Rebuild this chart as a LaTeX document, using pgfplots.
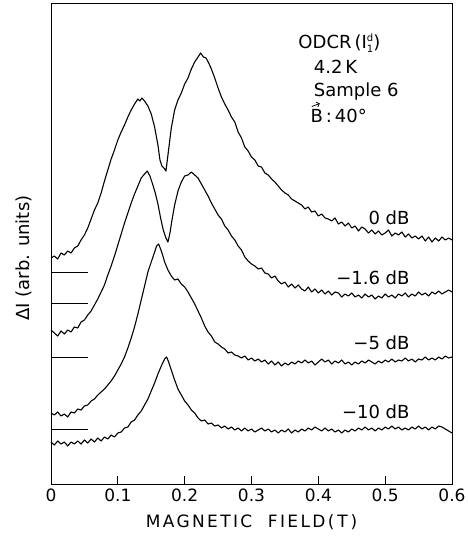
\documentclass[border=0pt]{standalone}
\usepackage{pgfplots}
\pgfplotsset{compat=1.18}
\usepackage{pgfplotstable}
\usetikzlibrary{arrows.meta}
\usepackage{fontspec}
\setmainfont{DejaVu Sans}

\begin{document}
% y is read as pixel row of the scan (top = 3, bottom = 484), so y dir=reverse
\pgfplotstableread[row sep=\\]{
x y\\
0.000 258\\ 0.005 256\\ 0.010 259\\ 0.015 253\\ 0.020 255\\ 0.025 251\\ 0.030 253\\ 0.035 248\\ 0.040 246\\ 0.045 240\\
0.050 235\\ 0.055 228\\ 0.060 219\\ 0.065 210\\ 0.070 203\\ 0.075 193\\ 0.080 181\\ 0.085 170\\ 0.090 159\\ 0.095 150\\
0.100 140\\ 0.105 132\\ 0.110 125\\ 0.115 117\\ 0.120 110\\ 0.125 104\\ 0.130 99\\ 0.133 101\\ 0.136 98\\ 0.140 101\\
0.145 106\\ 0.150 114\\ 0.155 127\\ 0.160 145\\ 0.163 160\\ 0.166 166\\ 0.169 168\\ 0.172 171\\ 0.175 155\\ 0.180 128\\
0.185 110\\ 0.190 100\\ 0.195 93\\ 0.200 84\\ 0.205 78\\ 0.210 69\\ 0.215 62\\ 0.220 57\\ 0.224 53\\ 0.228 57\\
0.232 58\\ 0.236 63\\ 0.240 69\\ 0.245 78\\ 0.250 88\\ 0.255 97\\ 0.260 104\\ 0.265 110\\ 0.270 117\\ 0.275 122\\
0.280 132\\ 0.285 138\\ 0.290 147\\ 0.295 151\\ 0.300 157\\ 0.305 160\\ 0.310 166\\ 0.315 167\\ 0.320 173\\ 0.325 175\\
0.330 179\\ 0.335 182\\ 0.340 186\\ 0.345 190\\ 0.350 193\\ 0.355 195\\ 0.360 199\\ 0.365 201\\ 0.370 203\\ 0.375 205\\
0.380 209\\ 0.385 207\\ 0.390 212\\ 0.395 211\\ 0.400 216\\ 0.405 214\\ 0.410 218\\ 0.415 219\\ 0.420 221\\ 0.425 218\\
0.430 224\\ 0.435 222\\ 0.440 226\\ 0.445 223\\ 0.450 228\\ 0.455 226\\ 0.460 231\\ 0.465 227\\ 0.470 229\\ 0.475 233\\
0.480 230\\ 0.485 234\\ 0.490 231\\ 0.495 235\\ 0.500 233\\ 0.505 230\\ 0.510 236\\ 0.515 233\\ 0.520 235\\ 0.525 232\\
0.530 237\\ 0.535 234\\ 0.540 238\\ 0.545 236\\ 0.550 239\\ 0.555 236\\ 0.560 241\\ 0.565 237\\ 0.570 242\\ 0.575 238\\
0.580 241\\ 0.585 237\\ 0.590 240\\ 0.595 238\\ 0.600 240\\
}\dbzero

\pgfplotstableread[row sep=\\]{
x y\\
0.000 330\\ 0.005 333\\ 0.010 336\\ 0.015 331\\ 0.020 334\\ 0.025 330\\ 0.030 332\\ 0.035 327\\ 0.040 328\\ 0.045 322\\
0.050 320\\ 0.055 315\\ 0.060 311\\ 0.065 305\\ 0.070 299\\ 0.075 292\\ 0.080 285\\ 0.085 275\\ 0.090 266\\ 0.095 256\\
0.100 245\\ 0.105 234\\ 0.110 223\\ 0.115 213\\ 0.120 203\\ 0.125 194\\ 0.130 186\\ 0.135 178\\ 0.140 174\\ 0.144 171\\
0.148 176\\ 0.152 184\\ 0.156 193\\ 0.160 204\\ 0.164 218\\ 0.168 230\\ 0.172 238\\ 0.175 242\\ 0.178 233\\ 0.181 220\\
0.185 205\\ 0.190 191\\ 0.195 182\\ 0.200 176\\ 0.205 175\\ 0.210 172\\ 0.215 175\\ 0.220 178\\ 0.225 184\\ 0.230 190\\
0.235 196\\ 0.240 203\\ 0.245 209\\ 0.250 215\\ 0.255 219\\ 0.260 226\\ 0.265 230\\ 0.270 236\\ 0.275 240\\ 0.280 246\\
0.285 250\\ 0.290 257\\ 0.295 261\\ 0.300 264\\ 0.305 266\\ 0.310 269\\ 0.315 268\\ 0.320 273\\ 0.325 274\\ 0.330 278\\
0.335 276\\ 0.340 281\\ 0.345 284\\ 0.350 282\\ 0.355 287\\ 0.360 284\\ 0.365 288\\ 0.370 285\\ 0.375 289\\ 0.380 291\\
0.385 287\\ 0.390 292\\ 0.395 289\\ 0.400 293\\ 0.405 290\\ 0.410 294\\ 0.415 291\\ 0.420 295\\ 0.425 292\\ 0.430 293\\
0.435 297\\ 0.440 294\\ 0.445 296\\ 0.450 293\\ 0.455 297\\ 0.460 295\\ 0.465 298\\ 0.470 294\\ 0.475 297\\ 0.480 295\\
0.485 299\\ 0.490 296\\ 0.495 298\\ 0.500 294\\ 0.505 297\\ 0.510 295\\ 0.515 298\\ 0.520 294\\ 0.525 296\\ 0.530 293\\
0.535 297\\ 0.540 294\\ 0.545 296\\ 0.550 292\\ 0.555 295\\ 0.560 293\\ 0.565 296\\ 0.570 292\\ 0.575 294\\ 0.580 291\\
0.585 294\\ 0.590 292\\ 0.595 290\\ 0.600 292\\
}\dbone

\pgfplotstableread[row sep=\\]{
x y\\
0.000 413\\ 0.005 415\\ 0.010 412\\ 0.015 416\\ 0.020 414\\ 0.025 417\\ 0.030 412\\ 0.035 413\\ 0.040 409\\ 0.045 410\\
0.050 406\\ 0.055 405\\ 0.060 401\\ 0.065 399\\ 0.070 395\\ 0.075 392\\ 0.080 389\\ 0.085 385\\ 0.090 381\\ 0.095 376\\
0.100 370\\ 0.105 364\\ 0.110 357\\ 0.115 348\\ 0.120 338\\ 0.125 327\\ 0.130 314\\ 0.135 300\\ 0.140 286\\ 0.145 272\\
0.150 262\\ 0.155 252\\ 0.158 246\\ 0.161 244\\ 0.164 249\\ 0.167 255\\ 0.170 262\\ 0.175 270\\ 0.180 276\\ 0.185 280\\
0.190 279\\ 0.195 284\\ 0.200 287\\ 0.205 292\\ 0.210 298\\ 0.215 304\\ 0.220 311\\ 0.225 318\\ 0.230 326\\ 0.235 332\\
0.240 336\\ 0.245 342\\ 0.250 344\\ 0.255 347\\ 0.260 349\\ 0.265 353\\ 0.270 352\\ 0.275 355\\ 0.280 356\\ 0.285 358\\
0.290 356\\ 0.295 360\\ 0.300 358\\ 0.305 361\\ 0.310 359\\ 0.315 362\\ 0.320 360\\ 0.325 364\\ 0.330 361\\ 0.335 365\\
0.340 362\\ 0.345 366\\ 0.350 363\\ 0.355 365\\ 0.360 362\\ 0.365 364\\ 0.370 361\\ 0.375 363\\ 0.380 360\\ 0.385 363\\
0.390 361\\ 0.395 365\\ 0.400 362\\ 0.405 359\\ 0.410 362\\ 0.415 360\\ 0.420 364\\ 0.425 361\\ 0.430 363\\ 0.435 360\\
0.440 364\\ 0.445 362\\ 0.450 365\\ 0.455 362\\ 0.460 364\\ 0.465 361\\ 0.470 363\\ 0.475 360\\ 0.480 362\\ 0.485 364\\
0.490 361\\ 0.495 363\\ 0.500 360\\ 0.505 362\\ 0.510 359\\ 0.515 362\\ 0.520 360\\ 0.525 361\\ 0.530 358\\ 0.535 361\\
0.540 359\\ 0.545 362\\ 0.550 359\\ 0.555 360\\ 0.560 357\\ 0.565 360\\ 0.570 358\\ 0.575 360\\ 0.580 357\\ 0.585 359\\
0.590 356\\ 0.595 358\\ 0.600 357\\
}\dbfive

\pgfplotstableread[row sep=\\]{
x y\\
0.000 442\\ 0.005 445\\ 0.010 441\\ 0.015 444\\ 0.020 442\\ 0.025 446\\ 0.030 442\\ 0.035 444\\ 0.040 441\\ 0.045 444\\
0.050 440\\ 0.055 443\\ 0.060 439\\ 0.065 442\\ 0.070 438\\ 0.075 441\\ 0.080 437\\ 0.085 439\\ 0.090 435\\ 0.095 437\\
0.100 433\\ 0.105 432\\ 0.110 428\\ 0.115 427\\ 0.120 422\\ 0.125 420\\ 0.130 415\\ 0.135 411\\ 0.140 405\\ 0.145 399\\
0.150 391\\ 0.155 383\\ 0.160 374\\ 0.165 366\\ 0.170 359\\ 0.173 357\\ 0.176 362\\ 0.180 370\\ 0.185 380\\ 0.190 389\\
0.195 395\\ 0.200 401\\ 0.205 405\\ 0.210 410\\ 0.215 413\\ 0.220 418\\ 0.225 421\\ 0.230 420\\ 0.235 424\\ 0.240 423\\
0.245 426\\ 0.250 425\\ 0.255 428\\ 0.260 426\\ 0.265 429\\ 0.270 427\\ 0.275 430\\ 0.280 428\\ 0.285 431\\ 0.290 428\\
0.295 431\\ 0.300 429\\ 0.305 432\\ 0.310 430\\ 0.315 428\\ 0.320 431\\ 0.325 429\\ 0.330 432\\ 0.335 430\\ 0.340 433\\
0.345 430\\ 0.350 432\\ 0.355 429\\ 0.360 433\\ 0.365 430\\ 0.370 432\\ 0.375 429\\ 0.380 431\\ 0.385 428\\ 0.390 430\\
0.395 427\\ 0.400 429\\ 0.405 431\\ 0.410 428\\ 0.415 431\\ 0.420 429\\ 0.425 432\\ 0.430 430\\ 0.435 433\\ 0.440 430\\
0.445 432\\ 0.450 429\\ 0.455 431\\ 0.460 428\\ 0.465 430\\ 0.470 427\\ 0.475 430\\ 0.480 428\\ 0.485 431\\ 0.490 428\\
0.495 430\\ 0.500 427\\ 0.505 429\\ 0.510 426\\ 0.515 429\\ 0.520 427\\ 0.525 430\\ 0.530 428\\ 0.535 430\\ 0.540 427\\
0.545 429\\ 0.550 426\\ 0.555 429\\ 0.560 427\\ 0.565 430\\ 0.570 427\\ 0.575 429\\ 0.580 426\\ 0.585 427\\ 0.590 429\\
0.595 431\\ 0.600 433\\
}\dbten

\begin{tikzpicture}
\path[use as bounding box] (0,0) rectangle (467pt,537pt);
\begin{axis}[
  at={(51pt,53pt)}, anchor=south west,
  scale only axis, width=401pt, height=481pt,
  xmin=0, xmax=0.6, ymin=3, ymax=484, y dir=reverse,
  ytick=\empty,
  xtick={0,0.1,0.2,0.3,0.4,0.5,0.6},
  xticklabels={0,0.1,0.2,0.3,0.4,0.5,0.6},
  xtick pos=bottom, tick align=inside,
  major tick length=8pt,
  tick style={black, line width=0.8pt},
  axis line style={line width=0.8pt},
  ticklabel style={font=\fontsize{17}{19}\selectfont},
  xticklabel style={yshift=-1pt},
  xlabel={\addfontfeature{LetterSpace=14}MAGNETIC\ \ FIELD(\,T\,)},
  xlabel style={font=\fontsize{17}{19}\selectfont, at={(axis description cs:0.5,-0.08)}, anchor=center},
  clip=false,
  cycle list={{black, no markers}},
  every axis plot/.append style={black, line width=1.1pt, line join=round},
]
\addplot table {\dbzero};
\addplot table {\dbone};
\addplot table {\dbfive};
\addplot table {\dbten};
% short zero-level marks at the left edge
\addplot[line width=0.9pt] coordinates {(0,272) (0.0554,272)};
\addplot[line width=0.9pt] coordinates {(0,303) (0.0554,303)};
\addplot[line width=0.9pt] coordinates {(0,357) (0.0554,357)};
\addplot[line width=0.9pt] coordinates {(0,429) (0.0554,429)};

\node[anchor=east, font=\fontsize{18}{20}\selectfont] at (axis cs:0.5417,218) {0 dB};
\node[anchor=east, font=\fontsize{18}{20}\selectfont] at (axis cs:0.5417,278) {−1.6 dB};
\node[anchor=east, font=\fontsize{18}{20}\selectfont] at (axis cs:0.5417,343) {−5 dB};
\node[anchor=east, font=\fontsize{18}{20}\selectfont] at (axis cs:0.5417,412) {−10 dB};

\node[anchor=west, font=\fontsize{18}{20}\selectfont] at (axis cs:0.3650,43) {ODCR\,(I\raisebox{-4pt}{\fontsize{10}{11}\selectfont\shortstack{d\\1}})};
\node[anchor=west, font=\fontsize{18}{20}\selectfont] at (axis cs:0.3880,67) {4.2\,K};
\node[anchor=west, font=\fontsize{18}{20}\selectfont] at (axis cs:0.3880,92) {Sample 6};
\node[anchor=west, font=\fontsize{18}{20}\selectfont, inner sep=0pt] (bvec) at (axis cs:0.3880,116) {B\,:\,40°};
\draw[line width=0.8pt, -{Straight Barb[length=2.5pt]}] ([xshift=1.5pt,yshift=2.5pt]bvec.north west) -- ++(8pt,0);
\node[rotate=90, font=\fontsize{18}{20}\selectfont] at (axis cs:-0.0400,258) {ΔI (arb. units)};
\end{axis}
\end{tikzpicture}
\end{document}
